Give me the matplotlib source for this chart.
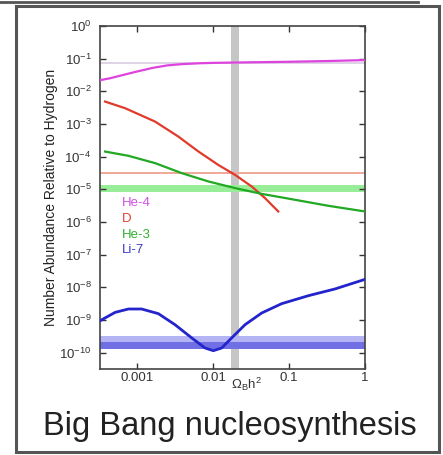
import numpy as np
import matplotlib
matplotlib.use("Agg")
import matplotlib.pyplot as plt
from matplotlib.patches import Rectangle
from matplotlib.lines import Line2D

plt.rcParams['font.family'] = ['Liberation Sans', 'DejaVu Sans']
plt.rcParams['mathtext.fontset'] = 'custom'
plt.rcParams['mathtext.rm'] = 'Liberation Sans'
plt.rcParams['mathtext.it'] = 'Liberation Sans'

### DATA ###

he4_x = [3.3e-4, 4.4e-4, 9e-4, 1.6e-3, 2.5e-3, 4e-3, 6.7e-3, 0.01, 0.03, 0.1, 0.3, 1.0]
he4_y = [0.022, 0.025, 0.038, 0.052, 0.062, 0.068, 0.072, 0.074, 0.077, 0.080, 0.084, 0.09]

d_x = [3.79e-4, 6.95e-4, 1.73e-3, 3.49e-3, 6.41e-3, 1.17e-2, 1.95e-2, 3.23e-2, 4.83e-2, 7.23e-2]
d_y = [4.84e-3, 3.04e-3, 1.18e-3, 4.12e-4, 1.44e-4, 5.6e-5, 2.77e-5, 1.22e-5, 5.4e-6, 2.1e-6]

he3_x = [3.79e-4, 7.69e-4, 1.73e-3, 3.87e-3, 8.67e-3, 1.95e-2, 4.38e-2, 0.12, 0.329, 1.0]
he3_y = [1.43e-4, 1.06e-4, 6.32e-5, 3.13e-5, 1.74e-5, 1.09e-5, 7.25e-6, 4.78e-6, 3.13e-6, 2.1e-6]

li7_x = [3.25e-4, 3.44e-4, 5.14e-4, 7.69e-4, 1.15e-3, 1.91e-3, 3.16e-3, 5.25e-3, 7.85e-3,
         1.01e-2, 1.3e-2, 1.76e-2, 2.64e-2, 4.38e-2, 8.02e-2, 0.18, 0.403, 1.0]
li7_y = [9.4e-10, 1.02e-9, 1.71e-9, 2.17e-9, 2.17e-9, 1.56e-9, 7.18e-10, 2.82e-10, 1.39e-10,
         1.15e-10, 1.39e-10, 2.82e-10, 7.18e-10, 1.64e-9, 3.16e-9, 5.54e-9, 8.9e-9, 1.75e-8]

# observed abundances (bands)
he4_obs = 0.074
d_obs = 3.1e-5
he3_band = (8.5e-6, 1.31e-5)
li7_band = (1.32e-10, 3.15e-10)
li7_band_inner = (1.32e-10, 2.1e-10)
omega_band = (0.0174, 0.022)

labels = ["He-4", "D", "He-3", "Li-7"]
colors = ["#dd44dd", "#e03a2a", "#22a822", "#2424cc"]
label_colors = ["#d050e0", "#e04030", "#30b030", "#3a3ac8"]

### FIGURE ###

fig = plt.figure(figsize=(4.43, 4.55), dpi=100)
ax = fig.add_axes([0.2257, 0.189, 0.598, 0.754])

ax.set_xscale('log')
ax.set_yscale('log')
ax.set_xlim(3.25e-4, 1.0)
ax.set_ylim(10**-10.5, 1.0)

# bands
ax.axvspan(omega_band[0], omega_band[1], color="#c6c6c6", lw=0, zorder=1)
ax.axhline(he4_obs, color="#d8cce0", lw=1.2, zorder=1)
ax.axhline(d_obs, color="#f0a898", lw=1.4, zorder=1)
ax.axhspan(he3_band[0], he3_band[1], color="#98ee98", lw=0, zorder=1)
ax.axhspan(li7_band[0], li7_band[1], color="#b4b4f4", lw=0, zorder=1)
ax.axhspan(li7_band_inner[0], li7_band_inner[1], color="#7070e4", lw=0, zorder=1)

# curves
ax.plot(he4_x, he4_y, color=colors[0], lw=1.6, zorder=3, solid_joinstyle='round')
ax.plot(d_x, d_y, color=colors[1], lw=1.6, zorder=3, solid_joinstyle='round')
ax.plot(he3_x, he3_y, color=colors[2], lw=1.6, zorder=3, solid_joinstyle='round')
ax.plot(li7_x, li7_y, color=colors[3], lw=2.0, zorder=3, solid_joinstyle='round')

# species labels
for i, lab in enumerate(labels):
    ax.text(0.083, 0.484 - i*0.046, lab, color=label_colors[i], fontsize=9.5,
            transform=ax.transAxes, va='center', ha='left')

# ticks
ax.set_xticks([0.001, 0.01, 0.1, 1])
ax.set_xticklabels(["0.001", "0.01", "0.1", "1"])
ax.set_yticks([10.0**k for k in range(-10, 1)])
ax.minorticks_off()
ax.tick_params(direction='in', top=True, right=True, length=4, width=1,
               labelsize=9.5, colors="#333333")
ax.tick_params(axis='x', pad=2)
ax.tick_params(axis='y', pad=6)
for s in ax.spines.values():
    s.set_color("#444444")
    s.set_linewidth(1.2)

ax.set_ylabel("Number Abundance Relative to Hydrogen", fontsize=10, color="#222222", labelpad=1)
fig.text(247/443, 1-384/455, r'$\Omega_B h^2$', fontsize=9.5, ha='center', va='center', color="#333333")

fig.text(230/443, 1-427/455, "Big Bang nucleosynthesis", fontsize=23.5,
         ha='center', va='center', color="#222222")

# outer frame
fig.patches.append(Rectangle((15.5/443, 1-451.5/455), (438.5-15.5)/443, (451.5-5.5)/455,
                             transform=fig.transFigure, fill=False, ec="#555555", lw=2.2))
fig.lines.append(Line2D([0, 418/443], [1-1.5/455, 1-1.5/455], transform=fig.transFigure,
                        color="#555555", lw=2))

fig.savefig("out.png", dpi=100)
